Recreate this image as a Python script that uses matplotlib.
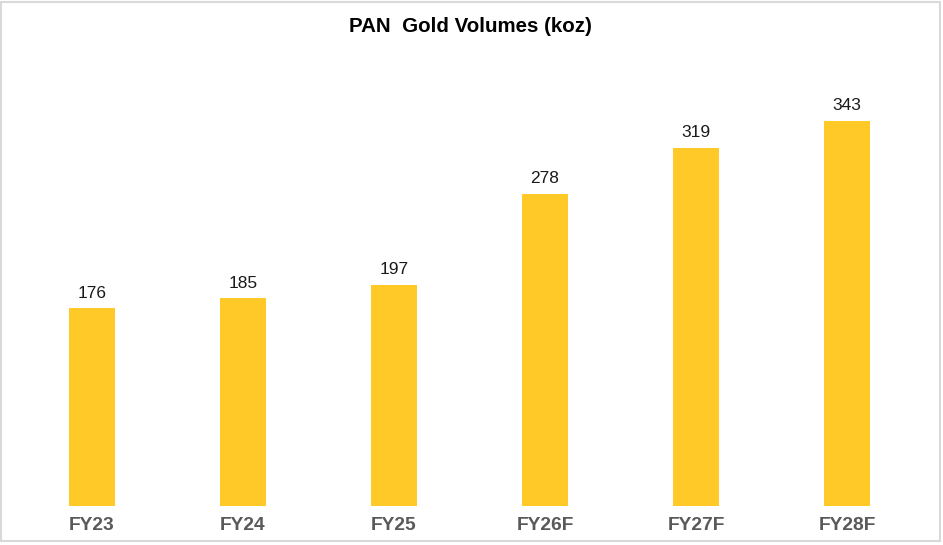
import matplotlib
matplotlib.use("Agg")
import matplotlib.pyplot as plt
from matplotlib.patches import Rectangle

categories = ["FY23", "FY24", "FY25", "FY26F", "FY27F", "FY28F"]
volumes = [176, 185, 197, 278, 319, 343]
title = "PAN  Gold Volumes (koz)"

plt.rcParams['font.family'] = ['Liberation Sans', 'DejaVu Sans']

W, H = 943, 545
fig = plt.figure(figsize=(W / 100, H / 100), dpi=100)
ax = fig.add_axes([16.5 / W, 39 / H, 906 / W, 466 / H])

x = range(len(categories))
bars = ax.bar(x, volumes, width=0.31, color="#FFCA28", zorder=2)
ax.set_xlim(-0.5, len(categories) - 0.5)
ax.set_ylim(0, 415)

for xi, v in zip(x, volumes):
    ax.annotate(f"{v}", (xi, v), xytext=(0, 5.5), textcoords="offset points",
                ha="center", va="bottom", fontsize=12.5, color="#1a1a1a")

ax.set_xticks(list(x))
ax.set_xticklabels(categories, fontsize=13.8, fontweight="bold", color="#595959")
ax.tick_params(axis="x", length=0, pad=8)
ax.set_yticks([])
for s in ax.spines.values():
    s.set_visible(False)

fig.text(470 / W, 1 - 27 / H, title, ha="center", va="center",
         fontsize=14.8, fontweight="bold", color="#000000")

fig.patches.append(Rectangle((1 / W, 4 / H), 939 / W, 539 / H, transform=fig.transFigure,
                             fill=False, edgecolor="#D9D9D9", linewidth=1.5))

fig.savefig("out.png", dpi=100)
